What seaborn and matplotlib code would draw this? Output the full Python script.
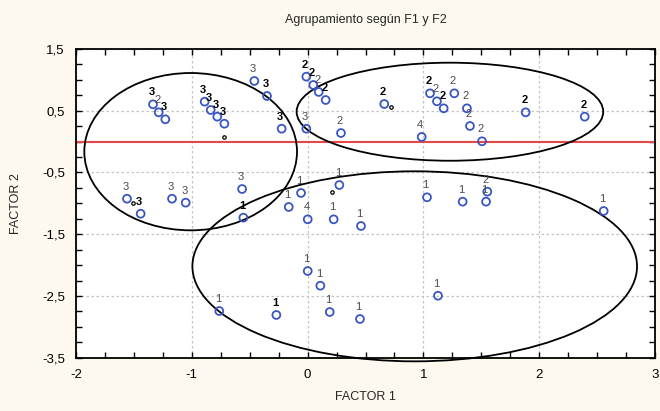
import matplotlib
matplotlib.use("Agg")
import matplotlib.pyplot as plt
import seaborn as sns
import pandas as pd
import numpy as np
from matplotlib.patches import Ellipse
from matplotlib.ticker import MultipleLocator

# ---- data ----
f1 = [-1.335, -1.229, -0.889, -0.837, -0.780, -0.719, -0.460, -0.351, -0.224, -0.011,
      -1.560, -1.442, -1.171, -1.053, -0.566,
      -1.286, -0.011, 0.049, 0.096, 0.156, 0.288, 0.662, 1.057, 1.117, 1.175, 1.267,
      1.376, 1.402, 1.506, 1.883, 2.393, 1.552,
      0.985, 0.001,
      -0.555, -0.163, -0.057, 0.274, 0.225, 0.001, 0.110, 0.461, 1.031, 1.339, 1.541,
      2.557, -0.763, -0.270, 0.191, 0.452, 1.126]
f2 = [0.604, 0.361, 0.647, 0.512, 0.404, 0.290, 0.982, 0.739, 0.209, 0.209,
      -0.925, -1.168, -0.925, -0.989, -0.768,
      0.474, 1.052, 0.917, 0.804, 0.674, 0.139, 0.609, 0.782, 0.653, 0.539, 0.782,
      0.539, 0.253, 0.005, 0.474, 0.404, -0.811,
      0.075, -1.259,
      -1.232, -1.059, -0.832, -0.703, -1.259, -2.096, -2.334, -1.367, -0.902, -0.973, -0.973,
      -1.124, -2.744, -2.808, -2.760, -2.873, -2.496]
grupo = ["3", "3", "3", "3", "3", "3", "3", "3", "3", "3",
         "3", "3", "3", "3", "3",
         "2", "2", "2", "2", "2", "2", "2", "2", "2", "2", "2",
         "2", "2", "2", "2", "2", "2",
         "4", "4",
         "1", "1", "1", "1", "1", "1", "1", "1", "1", "1", "1",
         "1", "1", "1", "1", "1", "1"]
negrita = [1, 1, 1, 1, 1, 1, 0, 1, 1, 0,
           0, 1, 0, 0, 0,
           0, 1, 1, 0, 1, 0, 1, 1, 0, 1, 0,
           0, 0, 0, 1, 1, 0,
           0, 0,
           1, 0, 0, 0, 0, 0, 0, 0, 0, 0, 0,
           0, 0, 1, 0, 0, 0]

# small black markers
small_x = [-0.719, 0.723, -1.510, 0.208]
small_y = [0.070, 0.556, -0.990, -0.811]

# cluster ellipses (center x, center y, full width, full height)
ell_cx = [-1.010, 1.229, 0.925]
ell_cy = [-0.163, 0.484, -2.020]
ell_w = [1.837, 2.648, 3.840]
ell_h = [2.548, 1.588, 3.078]

x_ticks = [-2, -1, 0, 1, 2, 3]
x_labels = ["-2", "-1", "0", "1", "2", "3"]
y_ticks = [1.5, 0.5, -0.5, -1.5, -2.5, -3.5]
y_labels = ["1,5", "0,5", "-0,5", "-1,5", "-2,5", "-3,5"]

df = pd.DataFrame({"F1": f1, "F2": f2, "grupo": grupo, "negrita": negrita})

# ---- plot ----
sns.set_style("white")
plt.rcParams["font.family"] = ["Liberation Sans", "DejaVu Sans"]
bg = "#fdf9ee"
fig = plt.figure(figsize=(6.6, 4.11), dpi=100, facecolor=bg)
ax = fig.add_axes([0.1152, 0.1297, 0.8772, 0.7511])
ax.set_facecolor("white")

ax.set_xlim(-2, 3)
ax.set_ylim(-3.5, 1.5)

ax.axhline(0, color="#e8474a", lw=1.5, zorder=2)

sns.scatterplot(data=df, x="F1", y="F2", ax=ax, marker="o", s=32,
                facecolor="none", edgecolor="#3a56c0", linewidth=1.3, zorder=4,
                legend=False)
ax.scatter(small_x, small_y, s=6, facecolor="white", edgecolor="black",
           linewidth=0.9, zorder=5)

for _, r in df.iterrows():
    if r["negrita"]:
        ax.annotate(r["grupo"], (r["F1"], r["F2"]), xytext=(-1, 5),
                    textcoords="offset points", ha="center", va="bottom",
                    fontsize=8, fontweight="bold", color="black", zorder=6)
    else:
        ax.annotate(r["grupo"], (r["F1"], r["F2"]), xytext=(-1, 5),
                    textcoords="offset points", ha="center", va="bottom",
                    fontsize=8, color="#4a4a4a", zorder=6)

for cx, cy, w, h in zip(ell_cx, ell_cy, ell_w, ell_h):
    ax.add_patch(Ellipse((cx, cy), w, h, fill=False, edgecolor="black",
                         lw=1.3, clip_on=False, zorder=3))

ax.set_xticks(x_ticks)
ax.set_xticklabels(x_labels)
ax.set_yticks(y_ticks)
ax.set_yticklabels(y_labels)
ax.xaxis.set_minor_locator(MultipleLocator(0.25))
ax.yaxis.set_minor_locator(MultipleLocator(0.25))
ax.tick_params(which="both", direction="in", top=True, right=True,
               bottom=True, left=True, length=4, width=1, color="black")
ax.tick_params(which="major", labelsize=9.5, pad=8, colors="black")
ax.grid(True, which="major", color="#c4c4c4", linestyle=(0, (2, 2)), lw=0.9)
ax.set_axisbelow(True)
for sp in ax.spines.values():
    sp.set_visible(True)
    sp.set_color("black")
    sp.set_linewidth(1.3)

ax.set_xlabel("FACTOR 1", fontsize=9, labelpad=7)
ax.set_ylabel("FACTOR 2", fontsize=9, labelpad=14)
fig.text(0.5537, 0.952, "Agrupamiento según F1 y F2", ha="center", va="center",
         fontsize=9)

fig.savefig("out.png", dpi=100, facecolor=bg)
